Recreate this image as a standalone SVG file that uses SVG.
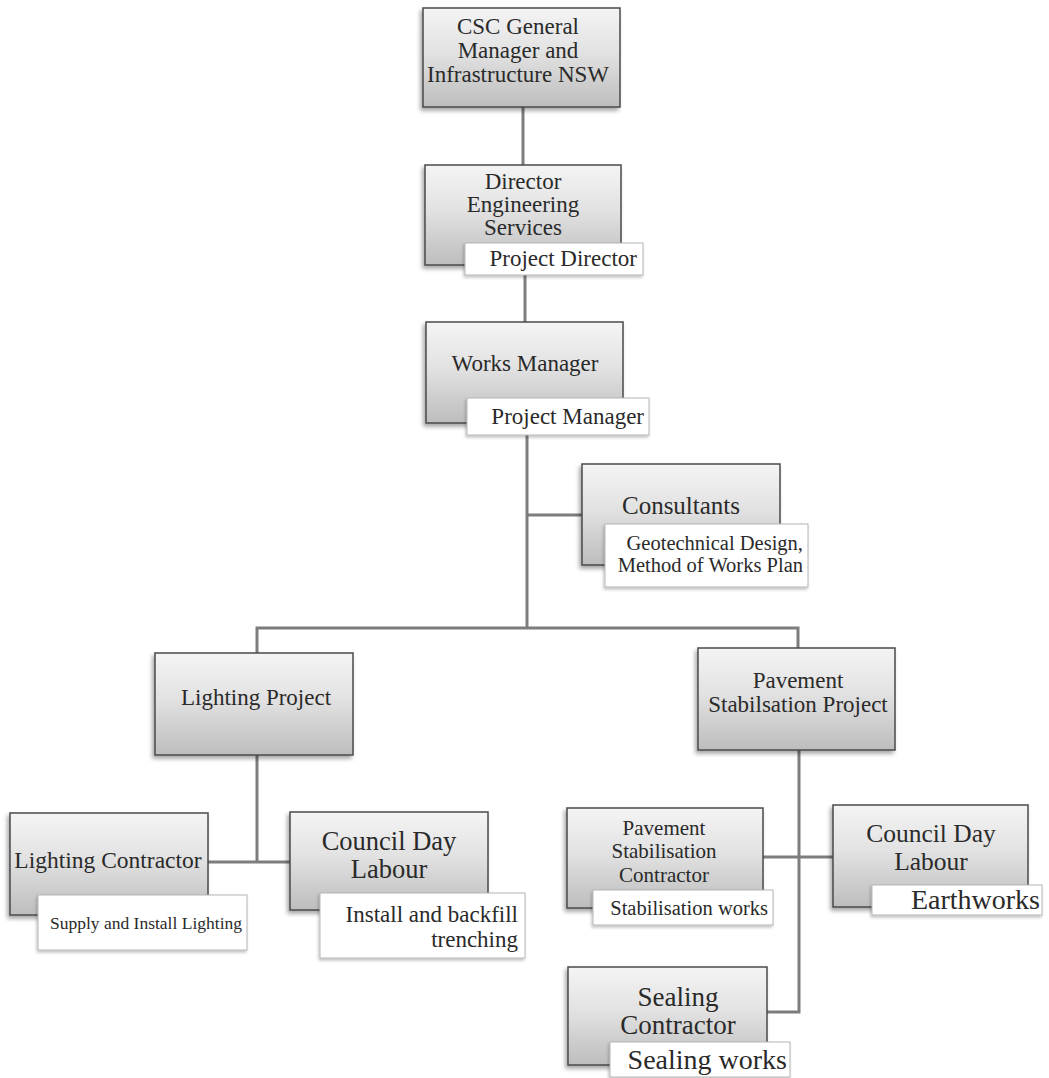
<svg xmlns="http://www.w3.org/2000/svg" width="1049" height="1078" viewBox="0 0 1049 1078">
<defs>
<linearGradient id="g" x1="0" y1="0" x2="0" y2="1">
<stop offset="0" stop-color="#f4f4f4"/>
<stop offset="0.45" stop-color="#e2e2e2"/>
<stop offset="1" stop-color="#bdbdbd"/>
</linearGradient>
<filter id="sh" x="-10%" y="-10%" width="120%" height="130%">
<feDropShadow dx="-2" dy="3" stdDeviation="2" flood-color="#000" flood-opacity="0.35"/>
</filter>
<filter id="sh2" x="-10%" y="-10%" width="120%" height="140%">
<feDropShadow dx="-1" dy="2" stdDeviation="1.5" flood-color="#000" flood-opacity="0.25"/>
</filter>
</defs>
<style>
.box{fill:url(#g);stroke:#4a4a4a;stroke-width:1.5;filter:url(#sh)}
.lab{fill:#fff;stroke:#b5b5b5;stroke-width:1;filter:url(#sh2)}
.t{fill:#2a2a2a;text-anchor:middle}
.r{text-anchor:end}
.con{stroke:#7d7d7d;stroke-width:3;fill:none}
</style>
<rect width="1049" height="1078" fill="#fff"/>
<g id="connectors">
<path class="con" d="M523 107V165"/>
<path class="con" d="M525 265V322"/>
<path class="con" d="M527 423V628"/>
<path class="con" d="M527 515H582"/>
<path class="con" d="M257 653V628H798V648"/>
<path class="con" d="M257 755V862"/>
<path class="con" d="M208 862H290"/>
<path class="con" d="M799 750V1012H767"/>
<path class="con" d="M763 857H833"/>
</g>
<g id="nodes" font-family="Liberation Serif, Times New Roman, DejaVu Serif, serif">
<g id="csc">
<rect class="box" x="423" y="8" width="197" height="99"/>
<text class="t" font-size="23" x="518" y="34">CSC General</text>
<text class="t" font-size="23" x="518" y="58">Manager and</text>
<text class="t" font-size="23" x="518" y="82">Infrastructure NSW</text>
</g>
<g id="director">
<rect class="box" x="425" y="165" width="196" height="100"/>
<text class="t" font-size="23" x="523" y="189">Director</text>
<text class="t" font-size="23" x="523" y="212">Engineering</text>
<text class="t" font-size="23" x="523" y="235">Services</text>
<rect class="lab" x="465" y="243" width="178" height="32"/>
<text class="t r" font-size="23" x="637" y="266">Project Director</text>
</g>
<g id="works">
<rect class="box" x="426" y="322" width="197" height="101"/>
<text class="t" font-size="23" x="525" y="371">Works Manager</text>
<rect class="lab" x="467" y="398" width="182" height="37"/>
<text class="t r" font-size="23" x="644" y="424">Project Manager</text>
</g>
<g id="consultants">
<rect class="box" x="582" y="464" width="198" height="101"/>
<text class="t" font-size="25" x="681" y="514">Consultants</text>
<rect class="lab" x="605" y="524" width="203" height="63"/>
<text class="t r" font-size="20.5" x="803" y="550">Geotechnical Design,</text>
<text class="t r" font-size="20.5" x="803" y="572">Method of Works Plan</text>
</g>
<g id="lighting">
<rect class="box" x="155" y="653" width="198" height="102"/>
<text class="t" font-size="23" x="256" y="705">Lighting Project</text>
</g>
<g id="pavement">
<rect class="box" x="698" y="648" width="197" height="102"/>
<text class="t" font-size="23" x="798" y="688">Pavement</text>
<text class="t" font-size="23" x="798" y="712">Stabilsation Project</text>
</g>
<g id="lightingcontractor">
<rect class="box" x="10" y="813" width="198" height="102"/>
<text class="t" font-size="23.5" x="108" y="868">Lighting Contractor</text>
<rect class="lab" x="38" y="895" width="209" height="55"/>
<text class="t r" font-size="17.5" x="242" y="929">Supply and Install Lighting</text>
</g>
<g id="councilleft">
<rect class="box" x="290" y="812" width="198" height="98"/>
<text class="t" font-size="26.5" x="389" y="850">Council Day</text>
<text class="t" font-size="26.5" x="389" y="878">Labour</text>
<rect class="lab" x="320" y="893" width="205" height="65"/>
<text class="t r" font-size="23" x="518" y="922">Install and backfill</text>
<text class="t r" font-size="23" x="518" y="947">trenching</text>
</g>
<g id="psc">
<rect class="box" x="567" y="808" width="196" height="100"/>
<text class="t" font-size="21" x="664" y="835">Pavement</text>
<text class="t" font-size="21" x="664" y="858">Stabilisation</text>
<text class="t" font-size="21" x="664" y="882">Contractor</text>
<rect class="lab" x="593" y="890" width="180" height="35"/>
<text class="t r" font-size="20.5" x="768" y="915">Stabilisation works</text>
</g>
<g id="councilright">
<rect class="box" x="833" y="805" width="195" height="102"/>
<text class="t" font-size="25.5" x="931" y="842">Council Day</text>
<text class="t" font-size="25.5" x="931" y="870">Labour</text>
<rect class="lab" x="872" y="885" width="170" height="30"/>
<text class="t r" font-size="28" x="1040" y="909">Earthworks</text>
</g>
<g id="sealing">
<rect class="box" x="568" y="967" width="199" height="98"/>
<text class="t" font-size="27" x="678" y="1006">Sealing</text>
<text class="t" font-size="27" x="678" y="1034">Contractor</text>
<rect class="lab" x="610" y="1042" width="180" height="35"/>
<text class="t r" font-size="28" x="787" y="1069">Sealing works</text>
</g>
</g>
</svg>
